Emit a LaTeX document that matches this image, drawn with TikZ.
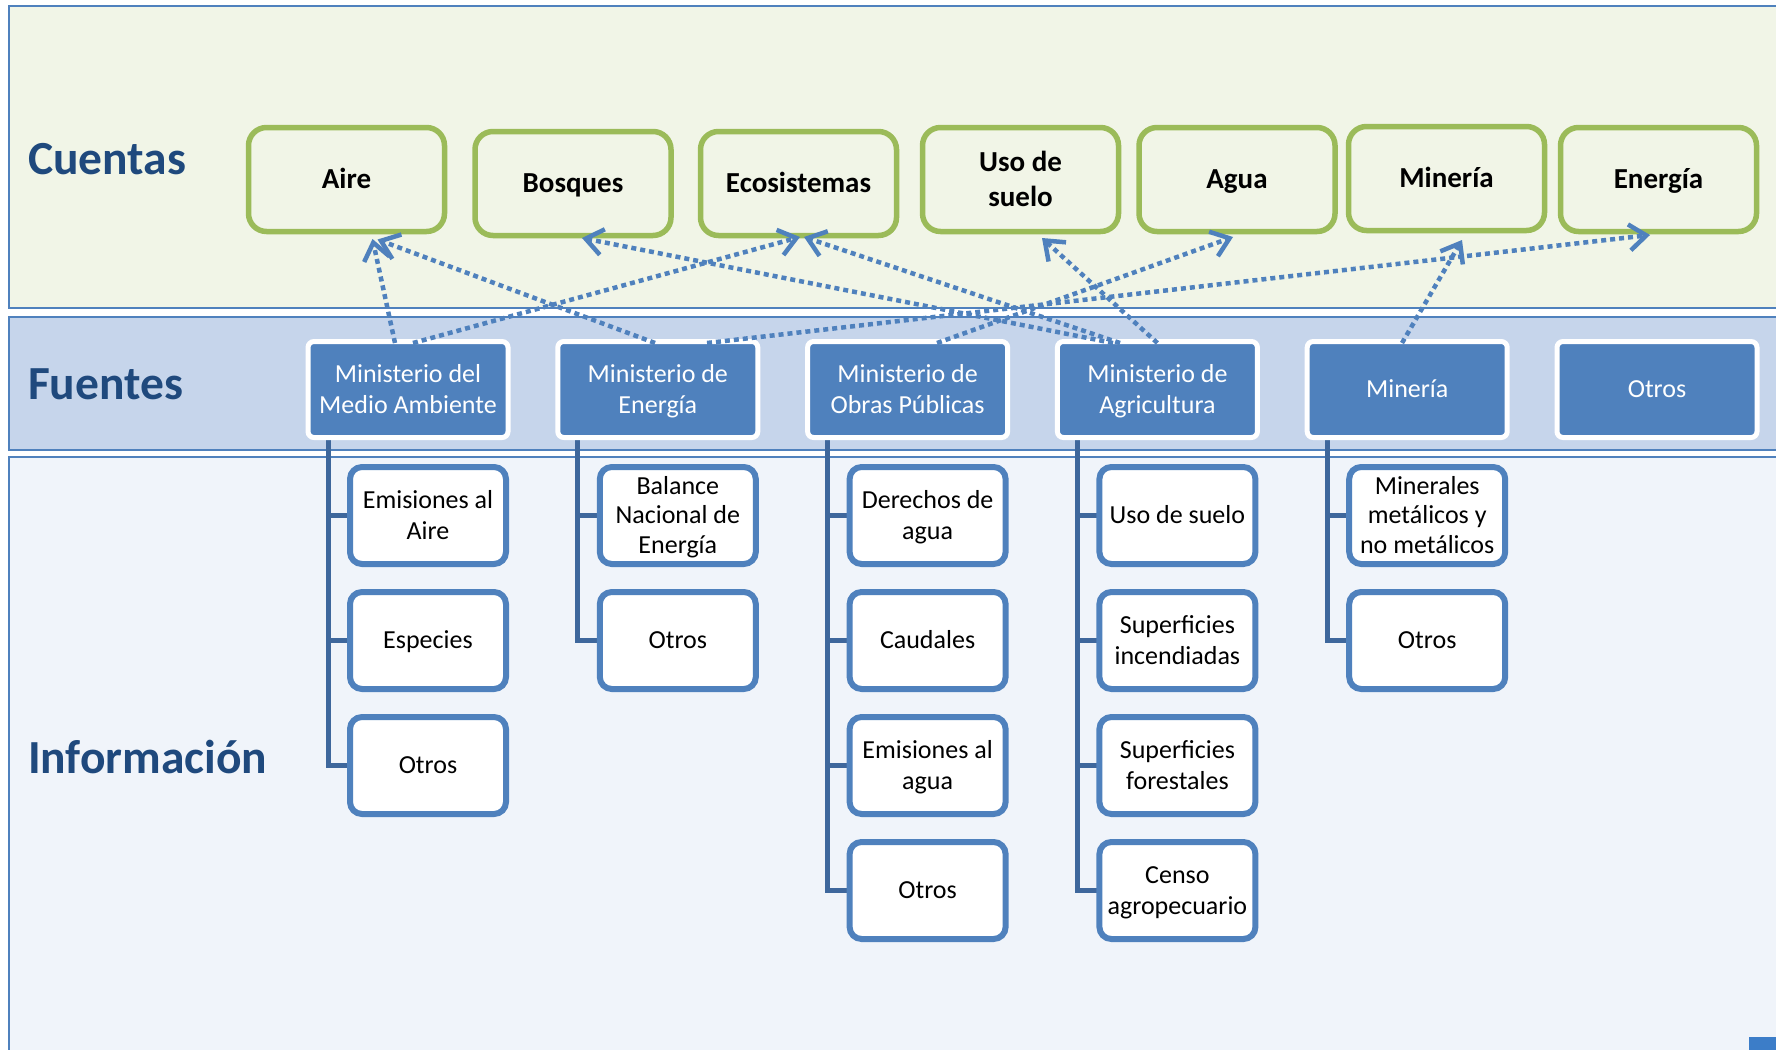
\documentclass[tikz,border=0pt]{standalone}
\usepackage{fontspec}
\setmainfont{Carlito}
\usetikzlibrary{arrows.meta,calc}
\definecolor{cuebg}{HTML}{F1F5E7}
\definecolor{fuebg}{HTML}{C6D5EB}
\definecolor{infbg}{HTML}{F0F4FA}
\definecolor{bandline}{HTML}{4F81BD}
\definecolor{accent}{HTML}{4F81BD}
\definecolor{greenln}{HTML}{9BBB59}
\definecolor{treeln}{HTML}{3E679C}
\definecolor{headc}{HTML}{1F497D}
\definecolor{cornerc}{HTML}{3C7DC8}
\newcommand\sT{\rule[-0.25em]{0pt}{1.15em}}
\pgfdeclarelayer{bands}
\pgfdeclarelayer{treel}
\pgfsetlayers{bands,treel,main}
\tikzset{
  heading/.style={anchor=base west, inner sep=0pt, outer sep=0pt, text=headc, font=\fontsize{47.5}{57}\selectfont\bfseries},
  cuenta/.style={draw=greenln, line width=5.5pt, rounded corners=18pt, minimum width=196pt, minimum height=104pt, inner sep=0pt, outer sep=0pt, align=center, font=\fontsize{29}{35}\selectfont\bfseries},
  fuente/.style={draw=white, fill=accent, line width=5pt, rounded corners=6pt, minimum width=200pt, minimum height=96pt, inner sep=0pt, outer sep=0pt, align=center, text=white, font=\fontsize{26}{29.5}\selectfont},
  info/.style={draw=accent, fill=white, line width=6pt, rounded corners=12pt, minimum width=156pt, minimum height=97pt, inner sep=0pt, outer sep=0pt, align=center, font=\fontsize{26}{29.5}\selectfont},
  tree/.style={draw=treeln, line width=5pt},
  link/.style={draw=accent, line width=4.5pt, dash pattern=on 5pt off 4pt, -{Straight Barb[length=17pt,width=26pt]}},
  bandedge/.style={draw=bandline, line width=2.5pt},
}
\begin{document}
\begin{tikzpicture}[x=1pt,y=-1pt]
\useasboundingbox (0,0) rectangle (1776,1049);
% bands
\begin{pgfonlayer}{bands}
\fill[cuebg] (9,6) rectangle (1785,308);
\draw[bandedge] (1785,6) -- (9,6) -- (9,308) -- (1785,308);
\fill[fuebg] (9,317) rectangle (1785,450);
\draw[bandedge] (1785,317) -- (9,317) -- (9,450) -- (1785,450);
\fill[infbg] (9,457) rectangle (1785,1060);
\draw[bandedge] (1785,457) -- (9,457) -- (9,1060);
\fill[cornerc] (1749,1037) rectangle (1780,1052);
\end{pgfonlayer}
% headings
\node[heading] (hcue) at (28,174.5) {Cuentas};
\node[heading] (hfue) at (28,399.5) {Fuentes};
\node[heading] (hinf) at (28,773) {Información};
% cuentas
\node[cuenta] (aire) at (346.5,179.5) {\sT Aire\sT};
\node[cuenta] (bosq) at (573,183.5) {\sT Bosques\sT};
\node[cuenta] (eco) at (798.5,183.5) {\sT Ecosistemas\sT};
\node[cuenta] (uso) at (1020.5,179.5) {\sT Uso de\\suelo\sT};
\node[cuenta] (agua) at (1237,179.5) {\sT Agua\sT};
\node[cuenta] (cmin) at (1446.5,178.5) {\sT Minería\sT};
\node[cuenta] (cene) at (1658.5,179.5) {\sT Energía\sT};
% fuentes
\node[fuente] (ma) at (408,389.5) {\sT Ministerio del\\Medio Ambiente\sT};
\node[fuente] (me) at (657.8,389.5) {\sT Ministerio de\\Energía\sT};
\node[fuente] (mop) at (907.6,389.5) {\sT Ministerio de\\Obras Públicas\sT};
\node[fuente] (mag) at (1157.4,389.5) {\sT Ministerio de\\Agricultura\sT};
\node[fuente] (fmin) at (1407.2,389.5) {\sT Minería\sT};
\node[fuente] (fotr) at (1657,389.5) {\sT Otros\sT};
% informacion
\node[info] (ma1) at (428,515.5) {\sT Emisiones al\\Aire\sT};
\node[info] (ma2) at (428,640.5) {\sT Especies\sT};
\node[info] (ma3) at (428,765.5) {\sT Otros\sT};
\node[info] (me1) at (677.8,515.5) {\sT Balance\\Nacional de\\Energía\sT};
\node[info] (me2) at (677.8,640.5) {\sT Otros\sT};
\node[info] (mop1) at (927.6,515.5) {\sT Derechos de\\agua\sT};
\node[info] (mop2) at (927.6,640.5) {\sT Caudales\sT};
\node[info] (mop3) at (927.6,765.5) {\sT Emisiones al\\agua\sT};
\node[info] (mop4) at (927.6,890.5) {\sT Otros\sT};
\node[info] (mag1) at (1177.4,515.5) {\sT Uso de suelo\sT};
\node[info] (mag2) at (1177.4,640.5) {\sT Superficies\\incendiadas\sT};
\node[info] (mag3) at (1177.4,765.5) {\sT Superficies\\forestales\sT};
\node[info] (mag4) at (1177.4,890.5) {\sT Censo\\agropecuario\sT};
\node[info] (fmin1) at (1427.2,515.5) {\sT Minerales\\metálicos y\\no metálicos\sT};
\node[info] (fmin2) at (1427.2,640.5) {\sT Otros\sT};
% tree lines
\coordinate (ma-t) at ($(ma.south)+(-80,2.5)$);
\coordinate (me-t) at ($(me.south)+(-80,2.5)$);
\coordinate (mop-t) at ($(mop.south)+(-80,2.5)$);
\coordinate (mag-t) at ($(mag.south)+(-80,2.5)$);
\coordinate (fmin-t) at ($(fmin.south)+(-80,2.5)$);
\begin{pgfonlayer}{treel}
\foreach \c in {ma1,ma2,ma3} \draw[tree] (ma-t) |- (\c.west);
\foreach \c in {me1,me2} \draw[tree] (me-t) |- (\c.west);
\foreach \c in {mop1,mop2,mop3,mop4} \draw[tree] (mop-t) |- (\c.west);
\foreach \c in {mag1,mag2,mag3,mag4} \draw[tree] (mag-t) |- (\c.west);
\foreach \c in {fmin1,fmin2} \draw[tree] (fmin-t) |- (\c.west);
\end{pgfonlayer}
% link end points
\coordinate (s1) at ($(ma.north)+(-13,1.5)$);
\coordinate (t1) at ($(aire.south)+(26,7.5)$);
\coordinate (s2) at ($(ma.north)+(5,1.5)$);
\coordinate (t2) at ($(eco.south)+(1.5,1.5)$);
\coordinate (s3) at ($(me.north)+(-2.8,1.5)$);
\coordinate (t3) at ($(aire.south)+(31,8)$);
\coordinate (s4) at ($(me.north)+(49.2,1.5)$);
\coordinate (t4) at ($(cene.south)+(-8.5,3.5)$);
\coordinate (s5) at ($(mag.north)+(-44.4,1.5)$);
\coordinate (t5) at ($(bosq.south)+(9,2.5)$);
\coordinate (s6) at ($(mag.north)+(-37.4,1.5)$);
\coordinate (t6) at ($(eco.south)+(5.5,1.5)$);
\coordinate (s7) at ($(mag.north)+(0,1.5)$);
\coordinate (t7) at ($(uso.south)+(21.5,6.5)$);
\coordinate (s8) at ($(mop.north)+(29.4,1.5)$);
\coordinate (t8) at ($(agua.south)+(-4,5.5)$);
\coordinate (s9) at ($(fmin.north)+(-5.2,1.5)$);
\coordinate (t9) at ($(cmin.south)+(15.5,9.5)$);
\foreach \i in {1,...,9} \draw[link] (s\i) -- (t\i);
\end{tikzpicture}
\end{document}
